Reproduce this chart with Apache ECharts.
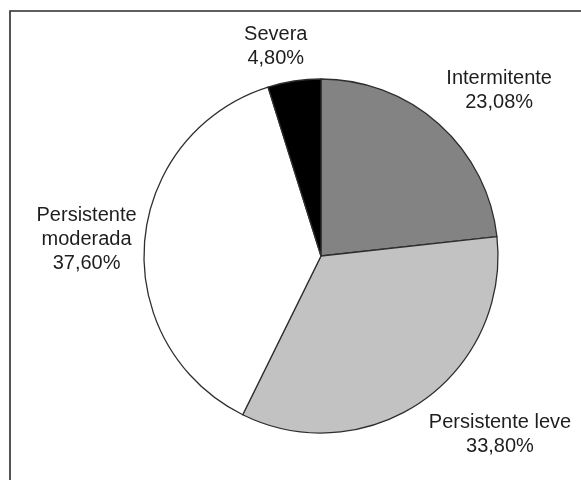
<!DOCTYPE html>
<html>
<head>
<meta charset="utf-8">
<script src="https://cdn.jsdelivr.net/npm/echarts@6/dist/echarts.min.js"></script>
<style>
  html, body { margin: 0; padding: 0; background: #fff; }
  #chart { width: 581px; height: 480px; }
</style>
</head>
<body>
<div id="chart"></div>
<script>
// Severity classes and their shares (%)
const categories = ['Intermitente', 'Persistente leve', 'Persistente\nmoderada', 'Severa'];
const values = [23.08, 33.80, 37.60, 4.80];
const valueLabels = ['23,08%', '33,80%', '37,60%', '4,80%'];

// Slice fills
const sliceColors = ['#838383', '#c2c2c2', '#ffffff', '#000000'];

// Pie geometry (px)
const pieCenter = [321, 256];
const pieRadius = 177;

// Label placement: extra distance beyond the rim and angular nudge (deg)
const labelExtra = [66, 76, 58, 37];
const labelNudge = [5.3, -10, -0.5, -3.5];

// Mid-angle of each slice, clockwise from 12 o'clock
const total = values.reduce((a, b) => a + b, 0);
const midAngles = [];
let acc = 0;
values.forEach(v => {
  midAngles.push((acc + v / 2) / total * 360);
  acc += v;
});

const chart = echarts.init(document.getElementById('chart'));
chart.setOption({
  backgroundColor: '#ffffff',
  animation: false,
  graphic: [{
    type: 'polyline',
    shape: { points: [[10, 480], [10, 11], [581, 11]] },
    style: { stroke: '#2b2b2b', lineWidth: 1.6, fill: null }
  }],
  series: [{
    type: 'pie',
    center: pieCenter,
    radius: pieRadius,
    startAngle: 90,
    clockwise: true,
    avoidLabelOverlap: false,
    silent: true,
    itemStyle: { borderColor: '#2e2e2e', borderWidth: 1.3 },
    label: {
      show: true,
      position: 'outside',
      formatter: p => categories[p.dataIndex] + '\n' + valueLabels[p.dataIndex],
      fontFamily: 'Liberation Sans, Arial, sans-serif',
      fontSize: 20,
      lineHeight: 24,
      color: '#1e1e1e',
      align: 'center'
    },
    labelLine: { show: false },
    labelLayout: function (p) {
      const i = p.dataIndex;
      const a = (midAngles[i] + labelNudge[i]) * Math.PI / 180;
      const d = pieRadius + labelExtra[i];
      return {
        x: pieCenter[0] + d * Math.sin(a),
        y: pieCenter[1] - d * Math.cos(a),
        align: 'center',
        verticalAlign: 'middle'
      };
    },
    data: categories.map((c, i) => ({
      name: c,
      value: values[i],
      itemStyle: { color: sliceColors[i] }
    }))
  }]
});
</script>
</body>
</html>
